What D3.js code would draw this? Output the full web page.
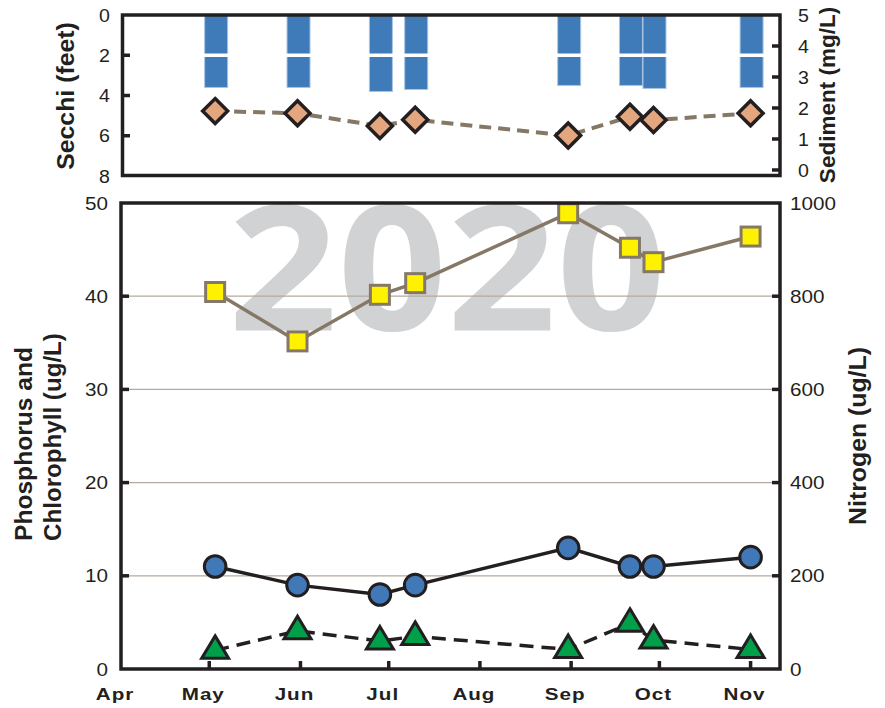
<!DOCTYPE html>
<html><head><meta charset="utf-8">
<script src="https://cdn.jsdelivr.net/npm/d3@7"></script>
<style>body{margin:0;background:#fff}</style>
</head><body><svg id="c" width="885" height="708"></svg>
<script>
// ---- data ----
const dates = ["2020-05-03","2020-05-31","2020-06-28","2020-07-10","2020-08-31","2020-09-21","2020-09-29","2020-11-01"];
const secchi = [3.6,3.6,3.8,3.7,3.5,3.5,3.65,3.6];
const sediment = [1.90,1.83,1.42,1.62,1.11,1.72,1.61,1.83];
const nitrogen = [809,703,803,828,978,904,873,928];
const phosphorus = [11,9,8,9,13,11,11,12];
const chlorophyll = [2.0,4.1,3.0,3.5,2.1,4.9,3.1,2.1];
const monthLabels = ["Apr","May","Jun","Jul","Aug","Sep","Oct","Nov"];
const monthStarts = ["2020-04-01","2020-05-01","2020-06-01","2020-07-01","2020-08-01","2020-09-01","2020-10-01","2020-11-01"];
const secchiTicks = [0,2,4,6,8];
const sedimentTicks = [0,1,2,3,4,5];
const leftTicks = [0,10,20,30,40,50];
const rightTicks = [0,200,400,600,800,1000];
const gridVals = [10,20,30,40];
const yearLabel = "2020";

// ---- setup ----
const parse = d3.timeParse("%Y-%m-%d");
const D = dates.map(parse);
const svg = d3.select("#c");
const INK = "#231f20", FONT = "'Liberation Sans', Arial, sans-serif";
const L = 121, R = 780;
const x = d3.scaleTime().domain([parse("2020-04-01"), parse("2020-11-11")]).range([L, R]);

const ySec = d3.scaleLinear().domain([0,8]).range([15,176]);
const ySed = d3.scaleLinear().domain([0,5]).range([170,15]);
const yP = d3.scaleLinear().domain([0,50]).range([669,203]);
const yN = d3.scaleLinear().domain([0,1000]).range([669,203]);

function htext(x0, y0, str, o) {
  return svg.append("text").attr("transform", `translate(${x0},${y0}) scale(${o.sx||1},1)`)
    .attr("text-anchor", o.anchor||"middle").attr("font-family", o.family||FONT)
    .attr("font-size", o.size).attr("font-weight", o.weight||"normal").attr("fill", o.fill||INK).text(str);
}
function vtext(x0, y0, parts, o) {
  const t = svg.append("text").attr("transform", `translate(${x0},${y0}) rotate(-90) scale(${o.sx||1},1)`)
    .attr("text-anchor", o.anchor||"middle").attr("font-family", FONT)
    .attr("font-size", o.size).attr("fill", INK);
  parts.forEach(p => t.append("tspan").attr("font-weight", p[1]).text(p[0]));
  return t;
}

// ---- watermark ----
htext(447, 330, yearLabel, {size:174, weight:700, family:"'Open Sans', 'Noto Sans', sans-serif", fill:"#d1d2d4", sx:1.1});

// ---- top panel: secchi bars ----
const bw = 23;
svg.append("g").selectAll("rect").data(secchi).join("rect")
  .attr("x", (d,i) => x(D[i]) - bw/2 + 1).attr("width", bw)
  .attr("y", ySec(0)).attr("height", d => ySec(d) - ySec(0))
  .attr("fill", "#3e7bb8").attr("stroke", "#a9c3e2").attr("stroke-width", 1);
// white gridline at 2 ft crossing the bars
svg.append("line").attr("x1", L).attr("x2", R).attr("y1", ySec(2)).attr("y2", ySec(2))
  .attr("stroke", "#fff").attr("stroke-width", 3.5);

// sediment line + diamonds
const sedLine = d3.line().x((d,i) => x(D[i])).y(d => ySed(d));
svg.append("path").attr("d", sedLine(sediment)).attr("fill", "none")
  .attr("stroke", "#857866").attr("stroke-width", 4).attr("stroke-dasharray", "12,7");
const dh = 12.5;
svg.append("g").selectAll("path").data(sediment).join("path")
  .attr("d", (d,i) => { const cx = x(D[i]), cy = ySed(d); return `M${cx},${cy-dh}L${cx+dh},${cy}L${cx},${cy+dh}L${cx-dh},${cy}Z`; })
  .attr("fill", "#e4a67e").attr("stroke", INK).attr("stroke-width", 3.5).attr("stroke-linejoin", "miter");

// top frame
svg.append("rect").attr("x", L+1.5).attr("y", 15).attr("width", R - L - 1.5).attr("height", 160.5)
  .attr("fill", "none").attr("stroke", INK).attr("stroke-width", 3.5);
secchiTicks.slice(1, -1).forEach(v => svg.append("line").attr("x1", L+1.5).attr("x2", L+9).attr("y1", ySec(v)).attr("y2", ySec(v)).attr("stroke", INK).attr("stroke-width", 3.5));
sedimentTicks.slice(0, -1).forEach(v => svg.append("line").attr("x1", R-8).attr("x2", R).attr("y1", ySed(v)).attr("y2", ySed(v)).attr("stroke", INK).attr("stroke-width", 3.5));
secchiTicks.forEach(v => htext(110, ySec(v) + 6.5, String(v), {size:17.5, anchor:"end", sx:1.12}));
sedimentTicks.forEach(v => htext(798, ySed(v) + 6.5, String(v), {size:17.5, anchor:"start", sx:1.12}));
vtext(74, 96, [["Secchi (feet)", "bold"]], {size:23, sx:1.08});
vtext(835, 95, [["Sediment (mg/L)", "bold"]], {size:22.5, sx:1.0});

// ---- bottom panel ----
gridVals.forEach(v => svg.append("line").attr("x1", L).attr("x2", R).attr("y1", yP(v)).attr("y2", yP(v))
  .attr("stroke", "#b3aa9d").attr("stroke-width", 1.3));

// nitrogen
const nLine = d3.line().x((d,i) => x(D[i])).y(d => yN(d));
svg.append("path").attr("d", nLine(nitrogen)).attr("fill", "none").attr("stroke", "#857866").attr("stroke-width", 3.5);
// chlorophyll (triangles, dashed)
const cLine = d3.line().x((d,i) => x(D[i])).y(d => yP(d));
svg.append("path").attr("d", cLine(chlorophyll)).attr("fill", "none").attr("stroke", INK)
  .attr("stroke-width", 3.5).attr("stroke-dasharray", "14,8");
// phosphorus (circles, solid)
svg.append("path").attr("d", cLine(phosphorus)).attr("fill", "none").attr("stroke", INK).attr("stroke-width", 3.5);

svg.append("g").selectAll("rect").data(nitrogen).join("rect")
  .attr("x", (d,i) => x(D[i]) - 9.5).attr("y", d => yN(d) - 9.5).attr("width", 19).attr("height", 19)
  .attr("fill", "#fff200").attr("stroke", "#857866").attr("stroke-width", 3);
svg.append("g").selectAll("path").data(chlorophyll).join("path")
  .attr("d", (d,i) => { const cx = x(D[i]), cy = yP(d); return `M${cx},${cy-14.5}L${cx+13.5},${cy+8}L${cx-13.5},${cy+8}Z`; })
  .attr("fill", "#00a04b").attr("stroke", INK).attr("stroke-width", 3).attr("stroke-linejoin", "miter");
svg.append("g").selectAll("circle").data(phosphorus).join("circle")
  .attr("cx", (d,i) => x(D[i])).attr("cy", d => yP(d)).attr("r", 10.8)
  .attr("fill", "#4178b8").attr("stroke", INK).attr("stroke-width", 3);

// bottom frame
svg.append("rect").attr("x", L).attr("y", 203).attr("width", R - L).attr("height", 466)
  .attr("fill", "none").attr("stroke", INK).attr("stroke-width", 3.5);
leftTicks.slice(1, -1).forEach(v => svg.append("line").attr("x1", L).attr("x2", L+8).attr("y1", yP(v)).attr("y2", yP(v)).attr("stroke", INK).attr("stroke-width", 3.5));
rightTicks.slice(1, -1).forEach(v => svg.append("line").attr("x1", R-8).attr("x2", R).attr("y1", yN(v)).attr("y2", yN(v)).attr("stroke", INK).attr("stroke-width", 3.5));
monthStarts.slice(1).forEach(m => { const xm = x(parse(m)); svg.append("line").attr("x1", xm).attr("x2", xm).attr("y1", 669).attr("y2", 661).attr("stroke", INK).attr("stroke-width", 3.5); });

leftTicks.forEach(v => htext(108, yP(v) + 6.5, String(v), {size:17.5, anchor:"end", sx:1.18}));
rightTicks.forEach(v => htext(790, yN(v) + 6.5, String(v), {size:17.5, anchor:"start", sx:1.18}));
monthLabels.forEach((m, i) => htext(x(parse(monthStarts[i])) - 6, 700, m, {size:16.5, weight:"bold", sx:1.25}).attr("letter-spacing", 0.8));

vtext(32, 541, [["Phosphorus and", "bold"]], {size:23, sx:1.07, anchor:"start"});
vtext(60.5, 541, [["Chlorophyll (ug/L)", "bold"]], {size:23, sx:1.05, anchor:"start"});
vtext(866, 436, [["Nitrogen (ug/L)", "bold"]], {size:23, sx:1.08});
</script></body></html>
